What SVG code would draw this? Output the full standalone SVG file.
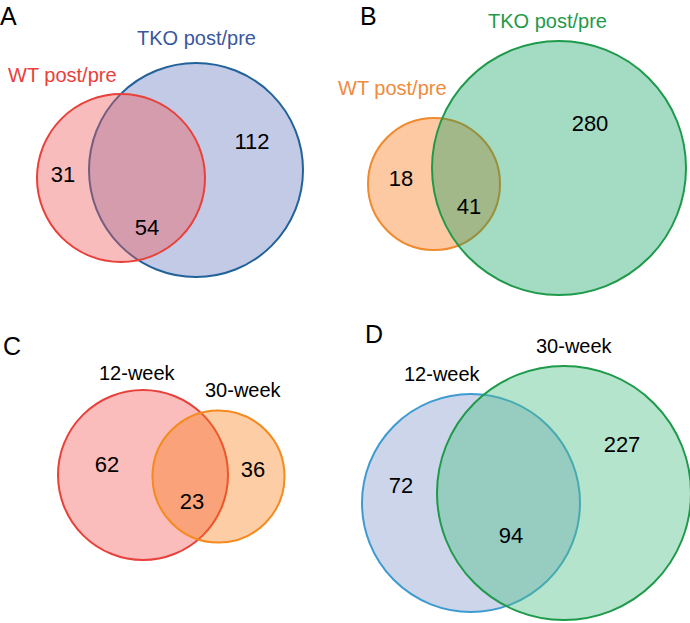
<svg xmlns="http://www.w3.org/2000/svg" width="690" height="623" viewBox="0 0 690 623">
<style>
text{font-family:"Liberation Sans",Arial,sans-serif;}
.lab{font-size:20px;}
.num{font-size:22px;fill:#000;text-anchor:middle;}
.pl{font-size:25px;fill:#000;}
circle{stroke-width:2;}
</style>
<rect width="690" height="623" fill="#fff"/>
<g id="panelA">
  <text class="pl" x="0" y="25">A</text>
  <g id="A-TKO"><circle cx="196" cy="170" r="107" fill="#c3cae6" stroke="#22629a"/>
    <text class="lab" x="137" y="45" fill="#3a56a0">TKO post/pre</text></g>
  <g id="A-WT"><circle cx="121" cy="178" r="84" fill="rgb(240,87,87)" fill-opacity="0.4" stroke="#e8413a"/>
    <text class="lab" x="8" y="82" fill="#e8413a">WT post/pre</text></g>
  <text class="num" x="252" y="149">112</text>
  <text class="num" x="63" y="182">31</text>
  <text class="num" x="147" y="235">54</text>
</g>
<g id="panelB">
  <text class="pl" x="360" y="25">B</text>
  <g id="B-WT"><circle cx="434" cy="184" r="66" fill="#fdc9a3" stroke="#f08a2c"/>
    <text class="lab" x="338" y="95" fill="#f08a3c">WT post/pre</text></g>
  <g id="B-TKO"><circle cx="559" cy="168" r="127" fill="rgb(0,155,89)" fill-opacity="0.36" stroke="#1e9a4a"/>
    <text class="lab" x="488" y="28" fill="#1e9a4a">TKO post/pre</text></g>
  <text class="num" x="590" y="131">280</text>
  <text class="num" x="401" y="186">18</text>
  <text class="num" x="469" y="214">41</text>
</g>
<g id="panelC">
  <text class="pl" x="3" y="355">C</text>
  <g id="C-12"><circle cx="143" cy="475" r="85" fill="#fbbcbc" stroke="#e8413a"/>
    <text class="lab" x="99" y="380" fill="#000">12-week</text></g>
  <g id="C-30"><circle cx="218.5" cy="476.5" r="66" fill="rgb(249,119,11)" fill-opacity="0.37" stroke="#f58a1f"/>
    <text class="lab" x="205" y="397" fill="#000">30-week</text></g>
  <text class="num" x="107" y="472">62</text>
  <text class="num" x="253" y="477">36</text>
  <text class="num" x="192" y="509">23</text>
</g>
<g id="panelD">
  <text class="pl" x="365" y="343">D</text>
  <g id="D-12"><circle cx="471" cy="503" r="109" fill="#cdd5ea" stroke="#3d9bd0"/>
    <text class="lab" x="404" y="381" fill="#000">12-week</text></g>
  <g id="D-30"><circle cx="564" cy="493" r="127" fill="rgb(81,193,137)" fill-opacity="0.43" stroke="#1e9a4a"/>
    <text class="lab" x="536" y="353" fill="#000">30-week</text></g>
  <text class="num" x="622" y="452">227</text>
  <text class="num" x="401" y="493">72</text>
  <text class="num" x="511" y="543">94</text>
</g>
<g id="connectors"/>
</svg>
